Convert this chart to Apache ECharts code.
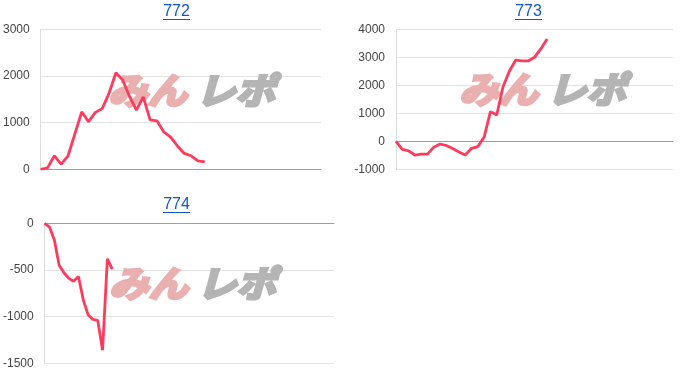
<!DOCTYPE html>
<html>
<head>
<meta charset="utf-8">
<script src="https://cdn.jsdelivr.net/npm/echarts@6/dist/echarts.min.js"></script>
<style>
html,body{margin:0;padding:0;background:#fff;}
#chart{width:700px;height:388px;}
</style>
</head>
<body>
<div id="chart"></div>
<script>
// ---- data ----
var titles = ['772', '773', '774'];
var categoryCounts = [42, 45, 61];
var values772 = [0, 30, 290, 110, 290, 760, 1230, 1020, 1220, 1300, 1630, 2070, 1910, 1560, 1270, 1550, 1060, 1040, 800, 690, 500, 340, 290, 180, 160];
var values773 = [0, -290, -340, -490, -460, -460, -210, -100, -150, -260, -380, -490, -250, -190, 150, 1060, 940, 1950, 2500, 2900, 2870, 2870, 3000, 3300, 3650];
var values774 = [0, -40, -180, -450, -530, -590, -620, -570, -820, -980, -1030, -1040, -1360, -380, -490];
var yMins = [0, -1000, -1500];
var yMaxs = [3000, 4000, 0];
var yIntervals = [1000, 1000, 500];

// ---- layout ----
var grids = [
  {left: 40, top: 29.3, width: 281, height: 140},
  {left: 396, top: 29.3, width: 277, height: 140},
  {left: 43, top: 223.3, width: 291, height: 140}
];
var titlePos = [[176.5, 12], [528.5, 12], [176.5, 205]];
var markPos = [[108, 90], [459, 89], [109, 283]];
var seriesData = [values772, values773, values774];

var FONT = '"Liberation Sans", Arial, sans-serif';
var LINE = '#ff3a5c';

function cats(n) { var a = []; for (var i = 0; i < n; i++) a.push(String(i + 1)); return a; }

var xAxes = [], yAxes = [], series = [], graphics = [];
for (var k = 0; k < 3; k++) {
  xAxes.push({
    type: 'category', gridIndex: k, data: cats(categoryCounts[k]), boundaryGap: false,
    axisLabel: {show: false}, axisTick: {show: false},
    axisLine: {show: true, onZero: true, lineStyle: {color: '#9e9e9e', width: 1}},
    splitLine: {show: false}
  });
  yAxes.push({
    type: 'value', gridIndex: k, min: yMins[k], max: yMaxs[k], interval: yIntervals[k],
    axisLine: {show: true, lineStyle: {color: '#dcdcdc'}},
    axisTick: {show: false},
    axisLabel: {color: '#444', fontSize: 12, fontFamily: FONT, margin: 11,
      formatter: function (v) { return String(v); }},
    splitLine: {lineStyle: {color: '#e3e3e3', width: 1}}
  });
  series.push({
    type: 'line', xAxisIndex: k, yAxisIndex: k, data: seriesData[k],
    showSymbol: false, symbol: 'none', smooth: false, z: 5,
    lineStyle: {color: LINE, width: 2.8}, itemStyle: {color: LINE}
  });
  // title (underlined link style)
  graphics.push({
    type: 'text', x: titlePos[k][0], y: titlePos[k][1], z: 10,
    style: {text: titles[k], fill: '#1155cc', font: '16px ' + FONT, align: 'center', verticalAlign: 'middle'}
  });
  graphics.push({
    type: 'rect', z: 10,
    shape: {x: titlePos[k][0] - 13.5, y: titlePos[k][1] + 7, width: 27, height: 1},
    style: {fill: '#1155cc'}
  });
  // watermark
  graphics.push({
    type: 'text', x: markPos[k][0], y: markPos[k][1], z: 1, scaleX: 1.1,
    style: {text: 'みん', fill: '#eab0b0', stroke: '#eab0b0', lineWidth: 3,
      font: 'italic bold 36px "Noto Sans CJK JP"', align: 'left', verticalAlign: 'middle'}
  });
  graphics.push({
    type: 'text', x: markPos[k][0] + 88, y: markPos[k][1], z: 1, scaleX: 1.1,
    style: {text: 'レポ', fill: '#b4b4b4', stroke: '#b4b4b4', lineWidth: 3,
      font: 'italic bold 36px "Noto Sans CJK JP"', align: 'left', verticalAlign: 'middle'}
  });
}

var chart = echarts.init(document.getElementById('chart'), null, {renderer: 'canvas'});
chart.setOption({
  animation: false,
  backgroundColor: '#fff',
  grid: grids,
  xAxis: xAxes,
  yAxis: yAxes,
  series: series,
  graphic: graphics
});
</script>
</body>
</html>
